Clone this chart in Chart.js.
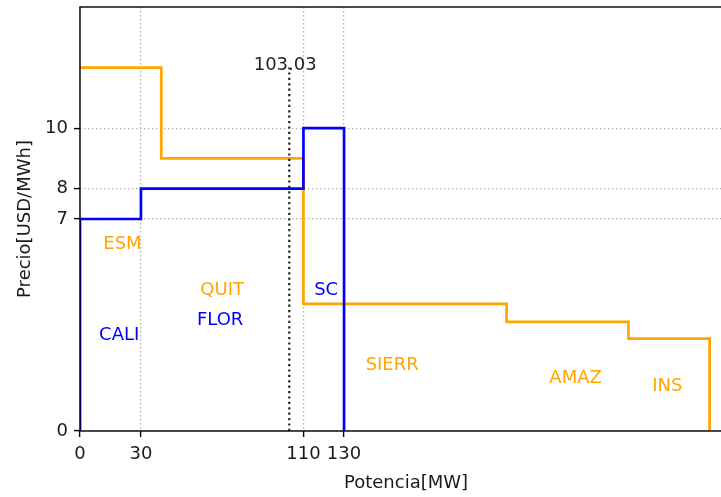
<!DOCTYPE html>
<html>
<head>
<meta charset="utf-8">
<script src="https://cdn.jsdelivr.net/npm/chart.js@4.4.1/dist/chart.umd.min.js"></script>
<style>
  html, body { margin: 0; padding: 0; background: #fff; overflow: hidden; }
  #wrap { width: 736px; height: 497px; }
</style>
</head>
<body>
<div id="wrap"><canvas id="c" width="736" height="497"></canvas></div>
<script>
// ---- data ----
const xTicks = [0, 30, 110, 130];
const yTicks = [0, 7, 8, 10];
const orangeBreaks = [0, 40, 110, 210, 270, 310];
const orangePrices = [12, 9, 4.2, 3.6, 3.05];
const blueBreaks = [0, 30, 110, 130];
const bluePrices = [7, 8, 10];
const cutX = 103.03;
const cutTop = 12;
const cutLabel = '103.03';
const labelNames = ['ESM', 'CALI', 'QUIT', 'FLOR', 'SC', 'SIERR', 'AMAZ', 'INS'];
const labelX = [20.9, 19.3, 70, 69, 121.2, 153.7, 244, 289.2];
const labelY = [6.0, 3.0, 4.5, 3.5, 4.5, 2.0, 1.57, 1.32];
const labelSeries = ['o', 'b', 'o', 'b', 'b', 'o', 'o', 'o'];

const ORANGE = '#FFA500';
const BLUE = '#0000FF';
const FONT = 'DejaVu Sans';

function stepPoints(breaks, prices, startAtZero) {
  const pts = [];
  if (startAtZero) pts.push({x: breaks[0], y: 0});
  for (let i = 0; i < prices.length; i++) {
    pts.push({x: breaks[i], y: prices[i]});
    pts.push({x: breaks[i + 1], y: prices[i]});
  }
  pts.push({x: breaks[breaks.length - 1], y: 0});
  return pts;
}

const framePlugin = {
  id: 'frame',
  afterDatasetsDraw(chart) {
    const {ctx, chartArea: a, scales} = chart;
    ctx.save();
    // text labels
    ctx.font = '18px "' + FONT + '"';
    ctx.textAlign = 'center';
    ctx.textBaseline = 'alphabetic';
    for (let i = 0; i < labelNames.length; i++) {
      ctx.fillStyle = labelSeries[i] === 'o' ? ORANGE : BLUE;
      ctx.fillText(labelNames[i], scales.x.getPixelForValue(labelX[i]), scales.y.getPixelForValue(labelY[i]));
    }
    ctx.fillStyle = '#222';
    ctx.fillText(cutLabel, scales.x.getPixelForValue(cutX - 2), scales.y.getPixelForValue(cutTop - 0.08));
    // frame
    ctx.strokeStyle = '#000';
    ctx.lineWidth = 1.4;
    ctx.strokeRect(a.left, a.top, a.right - a.left, a.bottom - a.top);
    ctx.restore();
  }
};

const gridOpts = { color: '#b0b0b0', lineWidth: 1.2, tickLength: 6, tickColor: '#000', tickWidth: 1.4, tickBorderDash: [] };
const borderOpts = { display: false, dash: [1.4, 2.6] };

new Chart(document.getElementById('c'), {
  type: 'scatter',
  data: {
    datasets: [
      {
        data: [{x: cutX, y: 0}, {x: cutX, y: cutTop}],
        showLine: true, borderColor: '#222', borderWidth: 2.2, borderDash: [2.2, 3.2],
        pointRadius: 0, order: 1
      },
      {
        data: stepPoints(blueBreaks, bluePrices, true),
        showLine: true, borderColor: BLUE, borderWidth: 2.7,
        pointRadius: 0, order: 2
      },
      {
        data: stepPoints(orangeBreaks, orangePrices, false),
        showLine: true, borderColor: ORANGE, borderWidth: 2.7,
        pointRadius: 0, order: 3
      }
    ]
  },
  options: {
    responsive: false,
    animation: false,
    events: [],
    layout: { padding: { left: 0, right: 4, top: 7, bottom: 0 } },
    plugins: { legend: { display: false }, tooltip: { enabled: false } },
    scales: {
      x: {
        type: 'linear', min: 0, max: 321,
        afterBuildTicks: s => { s.ticks = xTicks.map(v => ({value: v})); },
        afterFit: s => { s.height = 66; s.paddingLeft = 0; s.paddingRight = 0; },
        ticks: { font: { family: FONT, size: 18 }, color: '#1a1a1a', padding: 7, maxRotation: 0, autoSkip: false },
        grid: gridOpts,
        border: borderOpts,
        title: { display: true, text: 'Potencia[MW]', font: { family: FONT, size: 18 }, color: '#1a1a1a', padding: { top: 4, bottom: 3 } }
      },
      y: {
        type: 'linear', min: 0, max: 14,
        afterBuildTicks: s => { s.ticks = yTicks.map(v => ({value: v})); },
        afterFit: s => { s.width = 80; s.paddingTop = 0; s.paddingBottom = 0; },
        ticks: { font: { family: FONT, size: 18 }, color: '#1a1a1a', padding: 6, autoSkip: false },
        grid: gridOpts,
        border: borderOpts,
        title: { display: true, text: 'Precio[USD/MWh]', font: { family: FONT, size: 18 }, color: '#1a1a1a', padding: { top: 15, bottom: 0 } }
      }
    }
  },
  plugins: [framePlugin]
});
</script>
</body>
</html>
